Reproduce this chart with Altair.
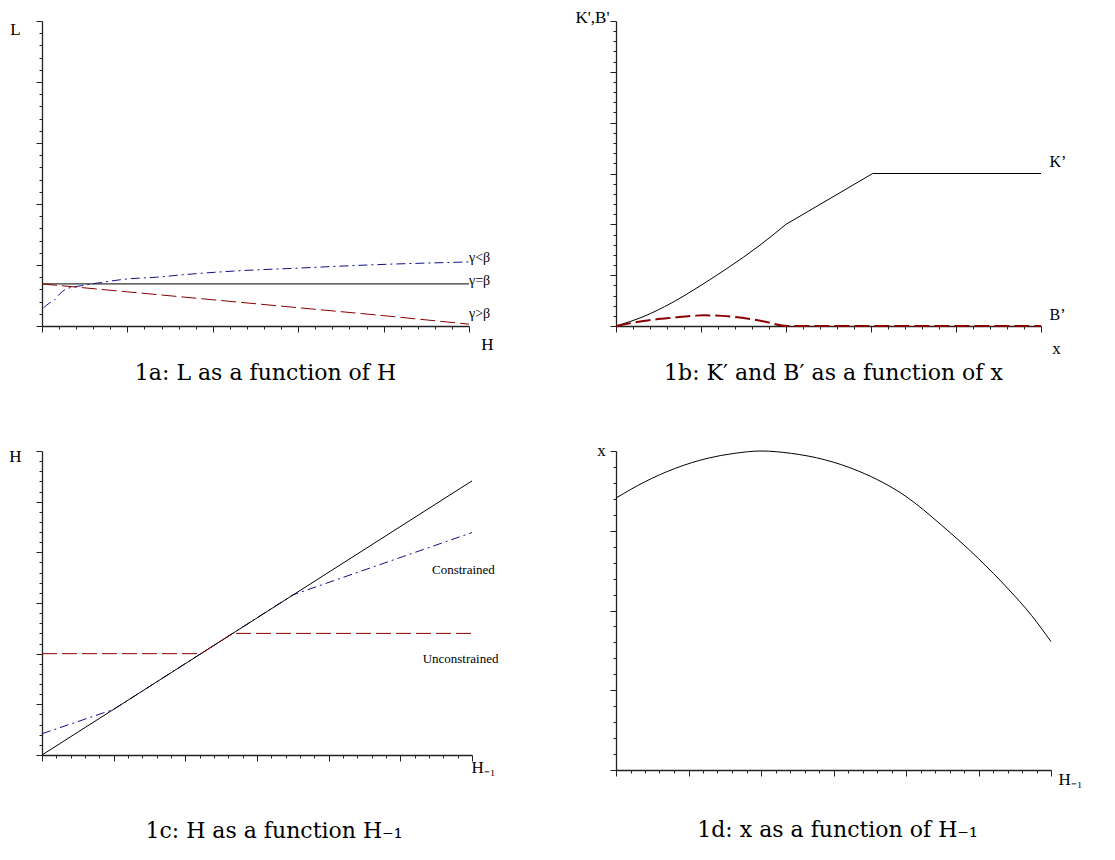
import altair as alt
import pandas as pd

SERIF = "Liberation Serif"
CAP_FONT = "DejaVu Serif"
BLUE = "#10108c"
RED = "#8b0000"
AXIS_COLOR = "#222222"

# ---------------- 1a: L as a function of H ----------------
a_eq_H = [0.0, 5.0]
a_eq_L = [0.69, 0.69]
a_lt_H = [0.02, 0.09, 0.15, 0.21, 0.29, 0.46, 0.68, 0.99, 1.34, 1.65, 2.24, 3.02, 3.81, 5.0]
a_lt_L = [0.30, 0.38, 0.43, 0.53, 0.61, 0.66, 0.71, 0.77, 0.80, 0.84, 0.90, 0.95, 1.00, 1.05]
a_gt_H = [0.0, 1.0, 2.0, 3.0, 4.0, 5.0]
a_gt_L = [0.69, 0.56, 0.43, 0.30, 0.17, 0.03]
a_lab_text = ["γ<β", "γ=β", "γ>β"]
a_lab_H = [5.0, 5.0, 5.0]
a_lab_L = [1.11, 0.74, 0.20]

# ---------------- 1b: K' and B' as a function of x ----------------
b_Kcurve_x = [0.0, 0.33, 0.65, 1.0, 1.33, 1.67, 2.0]
b_Kcurve_y = [0.0, 0.19, 0.45, 0.80, 1.16, 1.56, 2.0]
b_Kline_x = [2.0, 3.02, 5.0]
b_Kline_y = [2.0, 3.0, 3.0]
b_B_x = [0.0, 0.37, 0.65, 1.04, 1.39, 1.71, 2.02, 5.0]
b_B_y = [0.0, 0.11, 0.16, 0.21, 0.18, 0.10, 0.0, 0.0]
b_lab_text = ["K’", "B’"]
b_lab_x = [5.1, 5.1]
b_lab_y = [3.23, 0.22]

# ---------------- 1c: H as a function of H_-1 ----------------
c_45_x = [0.0, 6.0]
c_45_y = [0.0, 5.41]
c_con_x = [0.0, 1.0, 3.5, 6.0]
c_con_y = [0.42, 0.90, 3.16, 4.39]
c_unc_x = [0.0, 2.22, 2.66, 6.0]
c_unc_y = [2.0, 2.0, 2.4, 2.4]
c_lab_text = ["Constrained", "Unconstrained"]
c_lab_x = [5.88, 5.84]
c_lab_y = [3.65, 1.90]

# ---------------- 1d: x as a function of H_-1 ----------------
d_x = [0.0, 0.39, 0.81, 1.27, 1.63, 2.0, 2.42, 2.88, 3.34, 4.0, 4.49, 5.0, 5.41, 5.73, 6.0]
d_y = [3.41, 3.61, 3.78, 3.91, 3.97, 4.0, 3.97, 3.89, 3.75, 3.43, 3.07, 2.65, 2.27, 1.94, 1.61]


def series(xs, ys):
    return pd.DataFrame({"x": xs, "y": ys, "i": list(range(len(xs)))})


def labels_df(ts, xs, ys):
    return pd.DataFrame({"t": ts, "x": xs, "y": ys})


def ticks(n):
    return [round(k * 0.2, 1) for k in range(int(round(n * 5)) + 1)]


TICK_SIZE = {"condition": {"test": "abs(datum.value - round(datum.value)) < 0.01", "value": 6}, "value": 3}


def axis(n, title, tx, ty, align):
    return alt.Axis(values=ticks(n), labels=False, grid=False,
                    domainColor=AXIS_COLOR, domainWidth=1.3,
                    tickColor=AXIS_COLOR, tickWidth=1, tickSize=TICK_SIZE,
                    title=title, titleX=tx, titleY=ty, titleAngle=0,
                    titleAlign=align, titleBaseline="middle",
                    titleFont=SERIF, titleFontSize=17, titleFontWeight="normal",
                    titleColor="black")


def enc(n, title, tx, ty, align="center", ch="x"):
    sc = alt.Scale(domain=[0, n], nice=False, zero=False)
    if ch == "x":
        return alt.X("x:Q", scale=sc, axis=axis(n, title, tx, ty, align))
    return alt.Y("y:Q", scale=sc, axis=axis(n, title, tx, ty, align))


def line(df, X, Y, color, width=1.0, dash=None, interp="linear"):
    kw = dict(color=color, strokeWidth=width, clip=False, interpolate=interp)
    if dash:
        kw["strokeDash"] = dash
    return alt.Chart(df).mark_line(**kw).encode(x=X, y=Y, order="i:Q")


def texts(df, X, Y, size, align):
    return alt.Chart(df).mark_text(font=SERIF, fontSize=size, align=align,
                                   baseline="middle", color="black").encode(x=X, y=Y, text="t:N")


def caption(text, dx, offset):
    return alt.TitleParams(text, orient="bottom", frame="group", anchor="middle",
                           font=CAP_FONT, fontSize=22, fontWeight="normal",
                           color="black", baseline="top", offset=offset, dx=dx)


DASH_DOT = [9, 4, 2, 4]
DASH = [15, 5]

# panel a
Xa = enc(5, "H", 445, 18)
Ya = enc(5, "L", -27, 8, ch="y")
pa = alt.layer(
    line(series(a_eq_H, a_eq_L), Xa, Ya, "black"),
    line(series(a_lt_H, a_lt_L), Xa, Ya, BLUE, dash=DASH_DOT, interp="monotone"),
    line(series(a_gt_H, a_gt_L), Xa, Ya, RED, dash=DASH),
    texts(labels_df(a_lab_text, a_lab_H, a_lab_L), Xa, Ya, 14, "left"),
).properties(width=427, height=305, title=caption("1a: L as a function of H", 10, 11))

# panel b
Xb = enc(5, "x", 440, 22)
Yb = enc(6, "K',B'", -7, -4, align="right", ch="y")
pb = alt.layer(
    line(series(b_Kcurve_x, b_Kcurve_y), Xb, Yb, "black", interp="monotone"),
    line(series(b_Kline_x, b_Kline_y), Xb, Yb, "black"),
    line(series(b_B_x, b_B_y), Xb, Yb, RED, width=2, dash=DASH, interp="monotone"),
    texts(labels_df(b_lab_text, b_lab_x, b_lab_y), Xb, Yb, 16, "left"),
).properties(width=425, height=305, title=caption("1b: K′ and B′ as a function of x", 5, 7))

# panel c
Xc = enc(6, "H₋₁", 441, 12)
Yc = enc(6, "H", -27, 5, ch="y")
pc = alt.layer(
    line(series(c_con_x, c_con_y), Xc, Yc, BLUE, dash=DASH_DOT),
    line(series(c_45_x, c_45_y), Xc, Yc, "black"),
    line(series(c_unc_x, c_unc_y), Xc, Yc, RED, dash=DASH),
    texts(labels_df(c_lab_text, c_lab_x, c_lab_y), Xc, Yc, 13, "center"),
).properties(width=430, height=304, title=caption("1c: H as a function H₋₁", 17, 46))

# panel d
Xd = enc(6, "H₋₁", 454, 9)
Yd = enc(4, "x", -15, -1, ch="y")
pd_ = alt.layer(
    line(series(d_x, d_y), Xd, Yd, "black", interp="monotone"),
).properties(width=435, height=319, title=caption("1d: x as a function of H₋₁", 4, 33))

chart = alt.concat(
    pa, pb, pc, pd_, columns=2, spacing={"row": 125, "column": 144}, bounds="flush"
).configure_view(stroke=None).properties(
    padding={"left": 0, "top": 0, "right": 5, "bottom": 5}, background="white"
)

chart.save("out.html", embed_options={"renderer": "svg", "actions": False})
